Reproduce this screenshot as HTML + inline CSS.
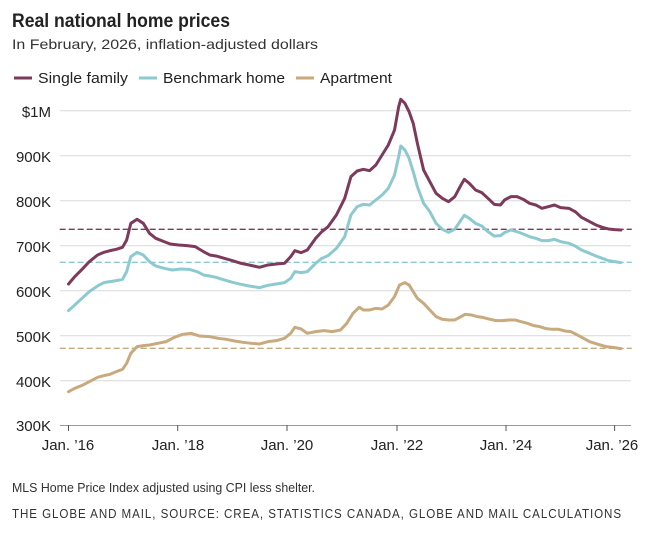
<!DOCTYPE html>
<html><head><meta charset="utf-8"><style>
body{margin:0;background:#fff;width:650px;height:534px;overflow:hidden;font-family:"Liberation Sans",sans-serif;color:#222}
svg{position:absolute;left:0;top:0}
</style></head><body>
<svg width="650" height="534" xmlns="http://www.w3.org/2000/svg" font-family="Liberation Sans, sans-serif">
<text x="12" y="27" font-size="19" font-weight="bold" fill="#222" textLength="218" lengthAdjust="spacingAndGlyphs">Real national home prices</text>
<text x="12" y="49" font-size="14" fill="#333" textLength="306" lengthAdjust="spacingAndGlyphs">In February, 2026, inflation-adjusted dollars</text>
<line x1="14" y1="78" x2="32" y2="78" stroke="#7d3a5a" stroke-width="3"/>
<text x="38" y="83" font-size="15" fill="#222" textLength="90" lengthAdjust="spacingAndGlyphs">Single family</text>
<line x1="139" y1="78" x2="157" y2="78" stroke="#8ccad0" stroke-width="3"/>
<text x="163" y="83" font-size="15" fill="#222" textLength="122" lengthAdjust="spacingAndGlyphs">Benchmark home</text>
<line x1="296" y1="78" x2="314" y2="78" stroke="#c9a97e" stroke-width="3"/>
<text x="320" y="83" font-size="15" fill="#222" textLength="72" lengthAdjust="spacingAndGlyphs">Apartment</text>
<g stroke="#d9d9d9" stroke-width="1">
<line x1="60" y1="110.7" x2="631" y2="110.7"/><line x1="60" y1="155.7" x2="631" y2="155.7"/>
<line x1="60" y1="200.7" x2="631" y2="200.7"/><line x1="60" y1="245.7" x2="631" y2="245.7"/>
<line x1="60" y1="290.7" x2="631" y2="290.7"/><line x1="60" y1="335.7" x2="631" y2="335.7"/>
<line x1="60" y1="380.7" x2="631" y2="380.7"/>
</g>
<line x1="60" y1="425.5" x2="631" y2="425.5" stroke="#999" stroke-width="1"/>
<g stroke="#555" stroke-width="1">
<line x1="68.5" y1="425" x2="68.5" y2="431"/><line x1="177.7" y1="425" x2="177.7" y2="431"/>
<line x1="287" y1="425" x2="287" y2="431"/><line x1="397" y1="425" x2="397" y2="431"/>
<line x1="506" y1="425" x2="506" y2="431"/><line x1="614.6" y1="425" x2="614.6" y2="431"/>
</g>
<g font-size="15" fill="#222" text-anchor="end">
<text x="51" y="117">$1M</text><text x="51" y="162">900K</text><text x="51" y="207">800K</text>
<text x="51" y="252">700K</text><text x="51" y="297">600K</text><text x="51" y="342">500K</text>
<text x="51" y="387">400K</text><text x="51" y="431">300K</text>
</g>
<g font-size="15" fill="#222" text-anchor="middle">
<text x="68" y="450">Jan. ’16</text><text x="178" y="450">Jan. ’18</text><text x="287" y="450">Jan. ’20</text>
<text x="397" y="450">Jan. ’22</text><text x="506" y="450">Jan. ’24</text><text x="612" y="450">Jan. ’26</text>
</g>
<g transform="translate(0,90) scale(0.4153,0.3333)" fill="none" stroke-linejoin="round" stroke-linecap="round">
<line x1="145" y1="418" x2="1520" y2="418" stroke="#7d3a5a" stroke-width="1.3" stroke-dasharray="5 4" vector-effect="non-scaling-stroke"/>
<line x1="145" y1="517" x2="1520" y2="517" stroke="#8ccad0" stroke-width="1.3" stroke-dasharray="5 4" vector-effect="non-scaling-stroke"/>
<line x1="145" y1="775" x2="1520" y2="775" stroke="#c9a97e" stroke-width="1.3" stroke-dasharray="5 4" vector-effect="non-scaling-stroke"/>
<polyline vector-effect="non-scaling-stroke" stroke="#c9a97e" stroke-width="3" points="165,905 180,895 200,885 215,875 235,862 250,857 265,853 280,845 295,838 305,820 315,790 330,770 345,767 360,765 380,760 400,755 420,742 440,733 460,730 480,738 505,740 525,745 545,748 565,753 585,757 605,760 625,762 645,755 665,752 685,745 700,730 710,712 725,717 740,730 760,725 780,722 800,725 820,720 835,700 850,670 865,652 875,660 890,660 905,655 920,657 935,645 950,620 962,585 975,578 985,585 995,605 1005,625 1020,640 1035,660 1050,680 1065,688 1080,690 1095,690 1110,680 1120,673 1135,675 1150,680 1165,683 1180,688 1195,692 1210,692 1225,690 1240,690 1255,695 1270,700 1285,707 1300,710 1315,716 1330,718 1345,718 1360,723 1375,725 1390,735 1405,745 1420,755 1440,763 1460,770 1480,773 1495,776"/>
<polyline vector-effect="non-scaling-stroke" stroke="#8ccad0" stroke-width="3" points="165,662 180,645 200,622 215,605 235,588 250,578 265,575 280,572 295,568 305,545 315,500 330,487 345,495 360,515 375,528 395,535 415,540 435,537 455,538 475,545 490,555 505,558 520,562 540,570 560,577 580,583 600,588 625,593 645,586 665,582 685,578 700,565 710,545 725,548 740,545 760,520 775,505 790,497 810,475 830,440 845,375 860,350 875,343 890,345 905,330 920,315 935,295 950,255 960,200 965,168 975,180 985,205 995,245 1005,290 1020,340 1035,365 1050,400 1065,418 1080,427 1095,418 1110,390 1118,376 1130,385 1145,400 1160,408 1175,425 1190,438 1205,437 1215,428 1230,420 1245,425 1260,432 1275,440 1290,445 1305,452 1320,452 1335,448 1350,455 1370,460 1385,468 1400,480 1420,490 1435,498 1450,505 1465,512 1480,515 1495,518"/>
<polyline vector-effect="non-scaling-stroke" stroke="#7d3a5a" stroke-width="3" points="165,582 180,560 200,535 215,515 235,495 250,487 265,482 280,478 295,472 305,450 315,400 330,388 345,400 360,430 375,445 395,455 410,462 430,465 450,467 470,470 490,485 505,495 520,498 540,505 560,512 580,520 600,525 625,532 645,525 665,522 685,520 700,500 710,482 725,488 740,480 760,445 775,425 790,410 810,375 830,325 845,260 860,243 875,238 890,242 905,225 920,195 935,165 950,120 960,50 965,28 975,40 985,65 995,100 1005,160 1020,240 1035,275 1050,310 1065,325 1080,335 1095,320 1110,285 1118,268 1130,280 1145,300 1160,308 1175,325 1190,343 1205,345 1215,330 1230,320 1245,320 1260,328 1275,340 1290,345 1305,355 1320,350 1335,345 1350,353 1370,355 1385,365 1400,382 1420,395 1435,405 1450,412 1465,417 1480,419 1495,420"/>
</g>
<text x="12" y="492" font-size="12.5" fill="#333" textLength="303" lengthAdjust="spacingAndGlyphs">MLS Home Price Index adjusted using CPI less shelter.</text>
<text x="12" y="518" font-size="12.5" fill="#333" letter-spacing="1" textLength="610" lengthAdjust="spacingAndGlyphs">THE GLOBE AND MAIL, SOURCE: CREA, STATISTICS CANADA, GLOBE AND MAIL CALCULATIONS</text>
</svg>
</body></html>
